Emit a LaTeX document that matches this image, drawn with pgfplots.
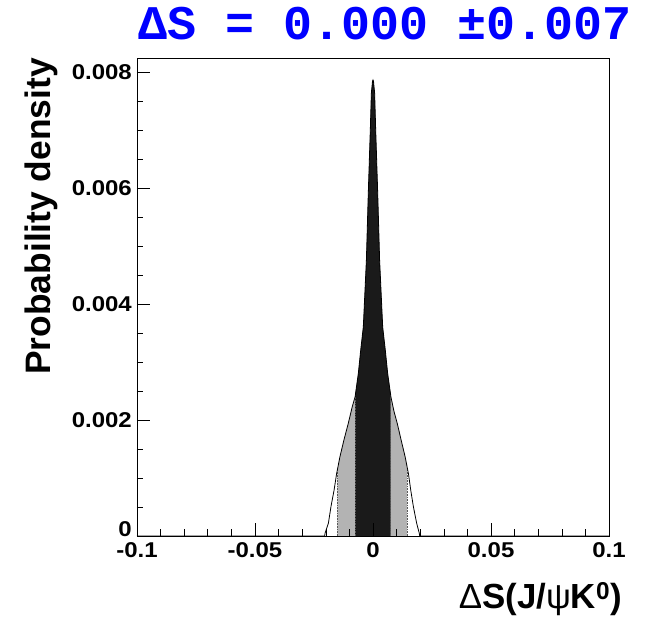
\documentclass[border=0pt]{standalone}
\usepackage{pgfplots}
\pgfplotsset{compat=1.18}
\usepackage{pgfplotstable}
\usepackage{fontspec}
\setmainfont{Liberation Sans}
\newfontfamily\titlefont{Liberation Mono}
\newfontfamily\tickfont{Liberation Sans}[FakeStretch=1.12]
\definecolor{darkfill}{HTML}{1A1A1A}
\definecolor{grayfill}{HTML}{B3B3B3}

\pgfplotstableread{
x y
-0.1 0
-0.0205 0
-0.0203 0.00005
-0.0189 0.00022
-0.0178 0.00051
-0.0165 0.00079
-0.0154 0.00108
-0.0140 0.00137
-0.0123 0.00166
-0.0105 0.00194
-0.0088 0.00223
-0.0076 0.00240
-0.0062 0.00281
-0.0052 0.00321
-0.0041 0.00361
-0.0028 0.00476
-0.0020 0.00591
-0.0011 0.00706
-0.0007 0.00764
-0.0002 0.00785
0 0.00787
0.0002 0.00785
0.0007 0.00764
0.0011 0.00706
0.0020 0.00591
0.0028 0.00476
0.0041 0.00361
0.0052 0.00321
0.0062 0.00281
0.0076 0.00240
0.0089 0.00215
0.0103 0.00194
0.0119 0.00166
0.0136 0.00137
0.0150 0.00108
0.0160 0.00079
0.0171 0.00051
0.0185 0.00022
0.0196 0.00005
0.0198 0
0.1 0
}\curvedata

% 95% band (light gray)
\pgfplotstableread{
x y
-0.0151 0
-0.0151 0.00114
-0.0140 0.00137
-0.0123 0.00166
-0.0105 0.00194
-0.0088 0.00223
-0.0076 0.00240
-0.0062 0.00281
-0.0052 0.00321
-0.0041 0.00361
-0.0028 0.00476
-0.0020 0.00591
-0.0011 0.00706
-0.0007 0.00764
-0.0002 0.00785
0 0.00787
0.0002 0.00785
0.0007 0.00764
0.0011 0.00706
0.0020 0.00591
0.0028 0.00476
0.0041 0.00361
0.0052 0.00321
0.0062 0.00281
0.0076 0.00240
0.0089 0.00215
0.0103 0.00194
0.0119 0.00166
0.0136 0.00137
0.0145 0.00118
0.0145 0
}\graydata

% 68% band (dark)
\pgfplotstableread{
x y
-0.0076 0
-0.0076 0.00240
-0.0062 0.00281
-0.0052 0.00321
-0.0041 0.00361
-0.0028 0.00476
-0.0020 0.00591
-0.0011 0.00706
-0.0007 0.00764
-0.0002 0.00785
0 0.00787
0.0002 0.00785
0.0007 0.00764
0.0011 0.00706
0.0020 0.00591
0.0028 0.00476
0.0041 0.00361
0.0052 0.00321
0.0062 0.00281
0.0075 0.00243
0.0075 0
}\darkdata

\begin{document}
\begin{tikzpicture}
\useasboundingbox (-137bp,-86bp) rectangle (510bp,536bp);
\begin{axis}[
  scale only axis, width=472bp, height=478bp,
  xmin=-0.1, xmax=0.1, ymin=0, ymax=0.00825,
  axis on top,
  axis line style={black, line width=0.8bp},
  xtick={-0.1,-0.05,0,0.05,0.1},
  xticklabels={-0.1,-0.05,0,0.05,0.1},
  ytick={0,0.002,0.004,0.006,0.008},
  yticklabels={\raisebox{7bp}[\height][\depth]{0},0.002,0.004,0.006,0.008},
  minor x tick num=4, minor y tick num=3,
  tick align=inside, xtick pos=bottom, ytick pos=left,
  major tick length=13bp, minor tick length=6.5bp,
  every tick/.style={black, line width=0.6bp},
  scaled ticks=false,
  /pgf/number format/assume math mode=true,
  tick label style={font=\tickfont\bfseries\fontsize{21.5}{21.5}\selectfont},
  xticklabel style={inner sep=0pt, yshift=-6bp},
  yticklabel style={inner sep=0pt, xshift=-5bp},
]
\addplot[fill=grayfill, draw=none] table[x=x, y=y] {\graydata} -- cycle;
\addplot[fill=darkfill, draw=none] table[x=x, y=y] {\darkdata} -- cycle;
\addplot[densely dotted, gray!70!black, line width=0.6bp] coordinates {(-0.0151,0) (-0.0151,0.00114)};
\addplot[densely dotted, gray!70!black, line width=0.6bp] coordinates {(0.0145,0) (0.0145,0.00118)};
\addplot[densely dotted, gray!70!black, line width=0.6bp] coordinates {(-0.0076,0) (-0.0076,0.00240)};
\addplot[densely dotted, gray!70!black, line width=0.6bp] coordinates {(0.0075,0) (0.0075,0.00243)};
\addplot[black, line width=0.8bp] table[x=x, y=y] {\curvedata};
\end{axis}
\node[anchor=base west, text={rgb,255:red,0;green,0;blue,255}, inner sep=0pt] at (1bp,496bp)
  {\titlefont\bfseries\fontsize{48.5}{48.5}\selectfont ΔS = 0.000 ±0.007};
\node[anchor=base east, rotate=90, inner sep=0pt] at (-86bp,478bp)
  {\bfseries\fontsize{35.5}{35.5}\selectfont Probability density};
\node[anchor=base east, inner sep=0pt] at (485bp,-72bp)
  {\bfseries\fontsize{35}{35}\selectfont{\mdseries Δ}S(J/{\mdseries ψ}K\textsuperscript{0})};
\end{tikzpicture}
\end{document}
